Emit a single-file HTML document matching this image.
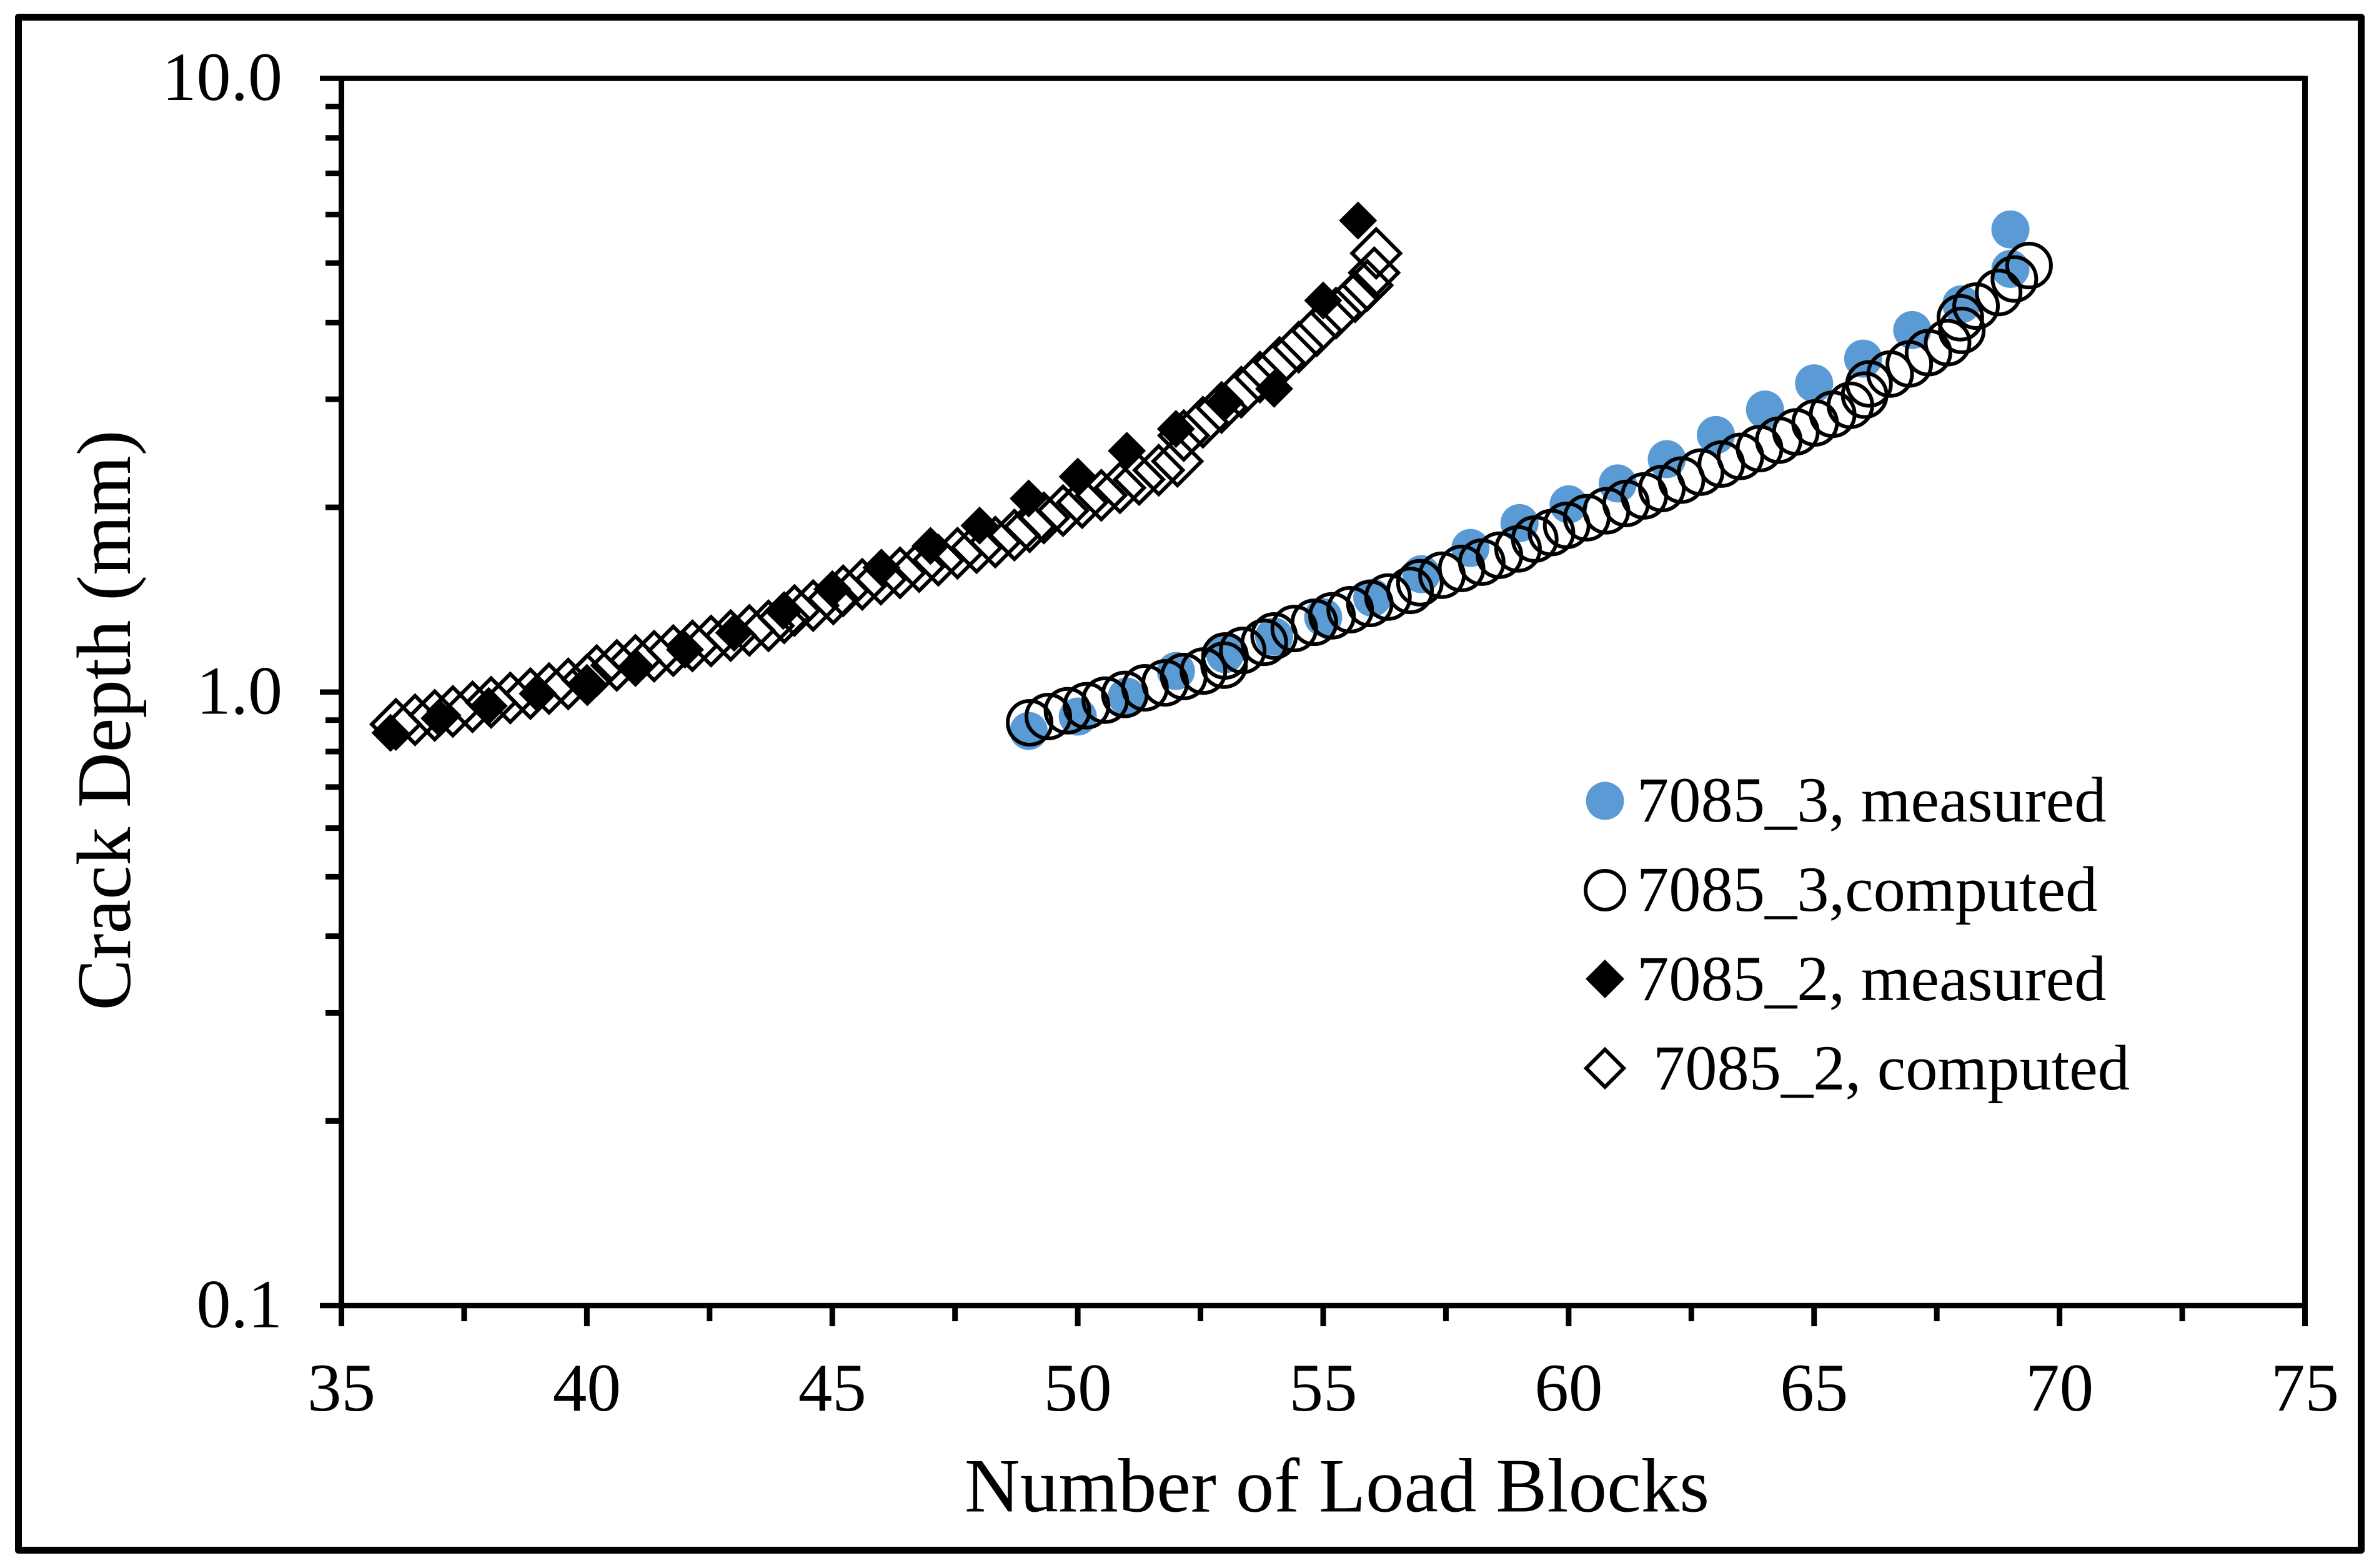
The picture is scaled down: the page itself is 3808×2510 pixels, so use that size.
<!DOCTYPE html>
<html lang="en">
<head>
<meta charset="utf-8">
<title>Crack Depth vs Number of Load Blocks</title>
<style>
html,body{margin:0;padding:0;background:#fff;}
svg{display:block;}
text{font-family:"Liberation Serif",serif;fill:#000;}
</style>
</head>
<body>
<svg id="chart" xmlns="http://www.w3.org/2000/svg" width="3808" height="2510" viewBox="0 0 3808 2510">
  <rect x="0" y="0" width="3808" height="2510" fill="#fff"/>
  <rect x="29.5" y="27.5" width="3750" height="2454" fill="none" stroke="#000" stroke-width="11" stroke-linejoin="round"/>
  <g id="measured-layer"></g>
  <g id="computed-layer"></g>
  <g id="axes-layer"></g>
  <text x="2140" y="2419.5" font-size="123" text-anchor="middle">Number of Load Blocks</text>
  <text transform="translate(208,1153) rotate(-90)" font-size="123" text-anchor="middle">Crack Depth (mm)</text>
  <g>
    <g>
      <circle cx="2569" cy="1282" r="30.5" fill="#5b9bd5"/>
      <text x="2620" y="1315" font-size="102.5">7085_3, measured</text>
    </g>
    <g>
      <circle cx="2569" cy="1425" r="31" fill="none" stroke="#000" stroke-width="6"/>
      <text x="2620" y="1458" font-size="102.5">7085_3,computed</text>
    </g>
    <g>
      <polygon points="2569,1536 2600,1567 2569,1598 2538,1567" fill="#000"/>
      <text x="2620" y="1601" font-size="102.5">7085_2, measured</text>
    </g>
    <g>
      <polygon points="2569,1680 2599,1710 2569,1740 2539,1710" fill="none" stroke="#000" stroke-width="6"/>
      <text x="2646" y="1744" font-size="102.5">7085_2, computed</text>
    </g>
  </g>
</svg>
<script>
const xTickValues = [35, 40, 45, 50, 55, 60, 65, 70, 75];
const xMinorTickValues = [37.5, 42.5, 47.5, 52.5, 57.5, 62.5, 67.5, 72.5];
const yTickValues = [10, 1, 0.1];
const yTickLabels = ["10.0", "1.0", "0.1"];
const yMinorTickValues = [0.2, 0.3, 0.4, 0.5, 0.6, 0.7, 0.8, 0.9, 2, 3, 4, 5, 6, 7, 8, 9];

const measured3X = [49, 50, 51, 52, 53, 54, 55, 56, 57, 58, 59, 60, 61, 62, 63, 64, 65, 66, 67, 68, 69, 69];
const measured3Y = [0.864, 0.912, 0.983, 1.082, 1.153, 1.231, 1.324, 1.424, 1.556, 1.717, 1.885, 2.022, 2.187, 2.396, 2.623, 2.886, 3.185, 3.494, 3.889, 4.284, 4.893, 5.673];

const computed3X = [49.02, 49.4, 49.79, 50.18, 50.56, 50.96, 51.37, 51.78, 52.16, 52.56, 52.98, 53.0, 53.36, 53.8, 54.0, 54.41, 54.82, 55.18, 55.55, 55.95, 56.32, 56.77, 56.97, 57.42, 57.82, 58.23, 58.59, 58.97, 59.31, 59.65, 59.96, 60.37, 60.77, 61.17, 61.54, 61.9, 62.3, 62.69, 63.11, 63.5, 63.89, 64.28, 64.63, 65.02, 65.38, 65.74, 66.03, 66.12, 66.55, 66.94, 67.33, 67.72, 68.01, 67.98, 68.3, 68.76, 69.08, 69.38];
const computed3Y = [0.891, 0.912, 0.932, 0.95, 0.97, 0.991, 1.016, 1.035, 1.06, 1.082, 1.106, 1.145, 1.169, 1.205, 1.234, 1.269, 1.299, 1.331, 1.362, 1.394, 1.428, 1.464, 1.507, 1.55, 1.59, 1.628, 1.671, 1.711, 1.775, 1.819, 1.869, 1.923, 1.974, 2.029, 2.088, 2.146, 2.215, 2.282, 2.352, 2.421, 2.493, 2.573, 2.654, 2.745, 2.836, 2.933, 3.047, 3.178, 3.298, 3.426, 3.573, 3.71, 3.885, 4.073, 4.255, 4.478, 4.711, 4.954];

const measured2X = [36, 37, 38, 39, 40, 41, 42, 43, 44, 45, 46, 47, 48, 49, 50, 51, 52, 53, 54, 55, 55.71];
const measured2Y = [0.858, 0.906, 0.949, 0.994, 1.035, 1.097, 1.172, 1.249, 1.356, 1.471, 1.595, 1.73, 1.867, 2.067, 2.244, 2.472, 2.684, 2.968, 3.12, 4.346, 5.866];

const computed2X = [36.11, 36.5, 36.9, 37.27, 37.67, 38.05, 38.44, 38.85, 39.23, 39.62, 40.01, 40.2, 40.61, 40.99, 41.37, 41.76, 42.15, 42.53, 42.93, 43.31, 43.7, 44.02, 44.23, 44.61, 45.02, 45.22, 45.61, 45.99, 46.38, 46.77, 47.16, 47.55, 47.94, 48.32, 48.71, 49.02, 49.31, 49.7, 50.09, 50.48, 50.86, 51.25, 51.65, 52.03, 52.16, 52.55, 52.93, 53.33, 53.71, 54.11, 54.5, 54.87, 55.26, 55.65, 55.9, 56.04, 56.08];
const computed2Y = [0.886, 0.901, 0.916, 0.93, 0.946, 0.962, 0.978, 0.994, 1.013, 1.031, 1.048, 1.084, 1.105, 1.126, 1.144, 1.168, 1.189, 1.211, 1.236, 1.26, 1.282, 1.321, 1.358, 1.383, 1.418, 1.462, 1.498, 1.527, 1.564, 1.601, 1.64, 1.683, 1.719, 1.755, 1.802, 1.859, 1.922, 1.975, 2.036, 2.092, 2.152, 2.22, 2.299, 2.377, 2.618, 2.752, 2.909, 3.081, 3.26, 3.444, 3.647, 3.88, 4.144, 4.407, 4.6, 4.823, 5.188];

const NS = "http://www.w3.org/2000/svg";
const PLOT_LEFT = 546.5, PLOT_RIGHT = 3689.5, PLOT_TOP = 125.5, PLOT_BOTTOM = 2090;
const X_MIN = 35, X_MAX = 75, LOG_MIN = -1, LOG_MAX = 1;

function xScale(v) {
  return PLOT_LEFT + (v - X_MIN) / (X_MAX - X_MIN) * (PLOT_RIGHT - PLOT_LEFT);
}
function yScale(v) {
  return PLOT_BOTTOM - (Math.log10(v) - LOG_MIN) / (LOG_MAX - LOG_MIN) * (PLOT_BOTTOM - PLOT_TOP);
}
function makeNode(tag, attrs) {
  const n = document.createElementNS(NS, tag);
  for (const k in attrs) n.setAttribute(k, attrs[k]);
  return n;
}
function diamondPoints(cx, cy, h) {
  return [cx, cy - h, cx + h, cy, cx, cy + h, cx - h, cy].join(" ");
}

const axes = document.getElementById("axes-layer");
const measuredLayer = document.getElementById("measured-layer");
const computedLayer = document.getElementById("computed-layer");

function axisLine(x1, y1, x2, y2, w, name) {
  const el = makeNode("line", {x1: x1, y1: y1, x2: x2, y2: y2, stroke: "#000", "stroke-width": w});
  
  
  axes.appendChild(el);
}

axisLine(PLOT_LEFT, PLOT_TOP - 4, PLOT_LEFT, PLOT_BOTTOM + 4, 9, "y-axis-line");
axisLine(PLOT_RIGHT, PLOT_TOP - 4, PLOT_RIGHT, PLOT_BOTTOM + 4, 9, "plot-right-border");
axisLine(PLOT_LEFT, PLOT_BOTTOM, PLOT_RIGHT, PLOT_BOTTOM, 8.5, "x-axis-line");
axisLine(PLOT_LEFT, PLOT_TOP, PLOT_RIGHT, PLOT_TOP, 8.5, "plot-top-border");

xTickValues.forEach(function (v) {
  const px = xScale(v);
  axisLine(px, PLOT_BOTTOM, px, 2123, 9, "x-major-tick");
  const label = makeNode("text", {x: px, y: 2258, "font-size": 109, "text-anchor": "middle"});
  
  
  label.textContent = String(v);
  axes.appendChild(label);
});
xMinorTickValues.forEach(function (v) {
  const px = xScale(v);
  axisLine(px, PLOT_BOTTOM, px, 2115, 9, "x-minor-tick");
});
yTickValues.forEach(function (v, i) {
  const py = yScale(v);
  axisLine(512, py, PLOT_LEFT, py, 8.5, "y-major-tick");
  const label = makeNode("text", {x: 452, y: py + 34.5, "font-size": 110, "text-anchor": "end"});
  
  
  label.textContent = yTickLabels[i];
  axes.appendChild(label);
});
yMinorTickValues.forEach(function (v) {
  const py = yScale(v);
  axisLine(521, py, PLOT_LEFT, py, 9, "y-minor-tick");
});

measured3X.forEach(function (v, i) {
  const el = makeNode("circle", {cx: xScale(v), cy: yScale(measured3Y[i]), r: 30.5, fill: "#5b9bd5"});
  
  
  measuredLayer.appendChild(el);
});
measured2X.forEach(function (v, i) {
  const el = makeNode("polygon", {points: diamondPoints(xScale(v), yScale(measured2Y[i]), 30.5), fill: "#000"});
  
  
  measuredLayer.appendChild(el);
});
computed3X.forEach(function (v, i) {
  const el = makeNode("circle", {cx: xScale(v), cy: yScale(computed3Y[i]), r: 35, fill: "none", stroke: "#000", "stroke-width": 6});
  
  
  computedLayer.appendChild(el);
});
computed2X.forEach(function (v, i) {
  const el = makeNode("polygon", {points: diamondPoints(xScale(v), yScale(computed2Y[i]), 38.5), fill: "none", stroke: "#000", "stroke-width": 6});
  
  
  computedLayer.appendChild(el);
});
</script>
</body>
</html>
